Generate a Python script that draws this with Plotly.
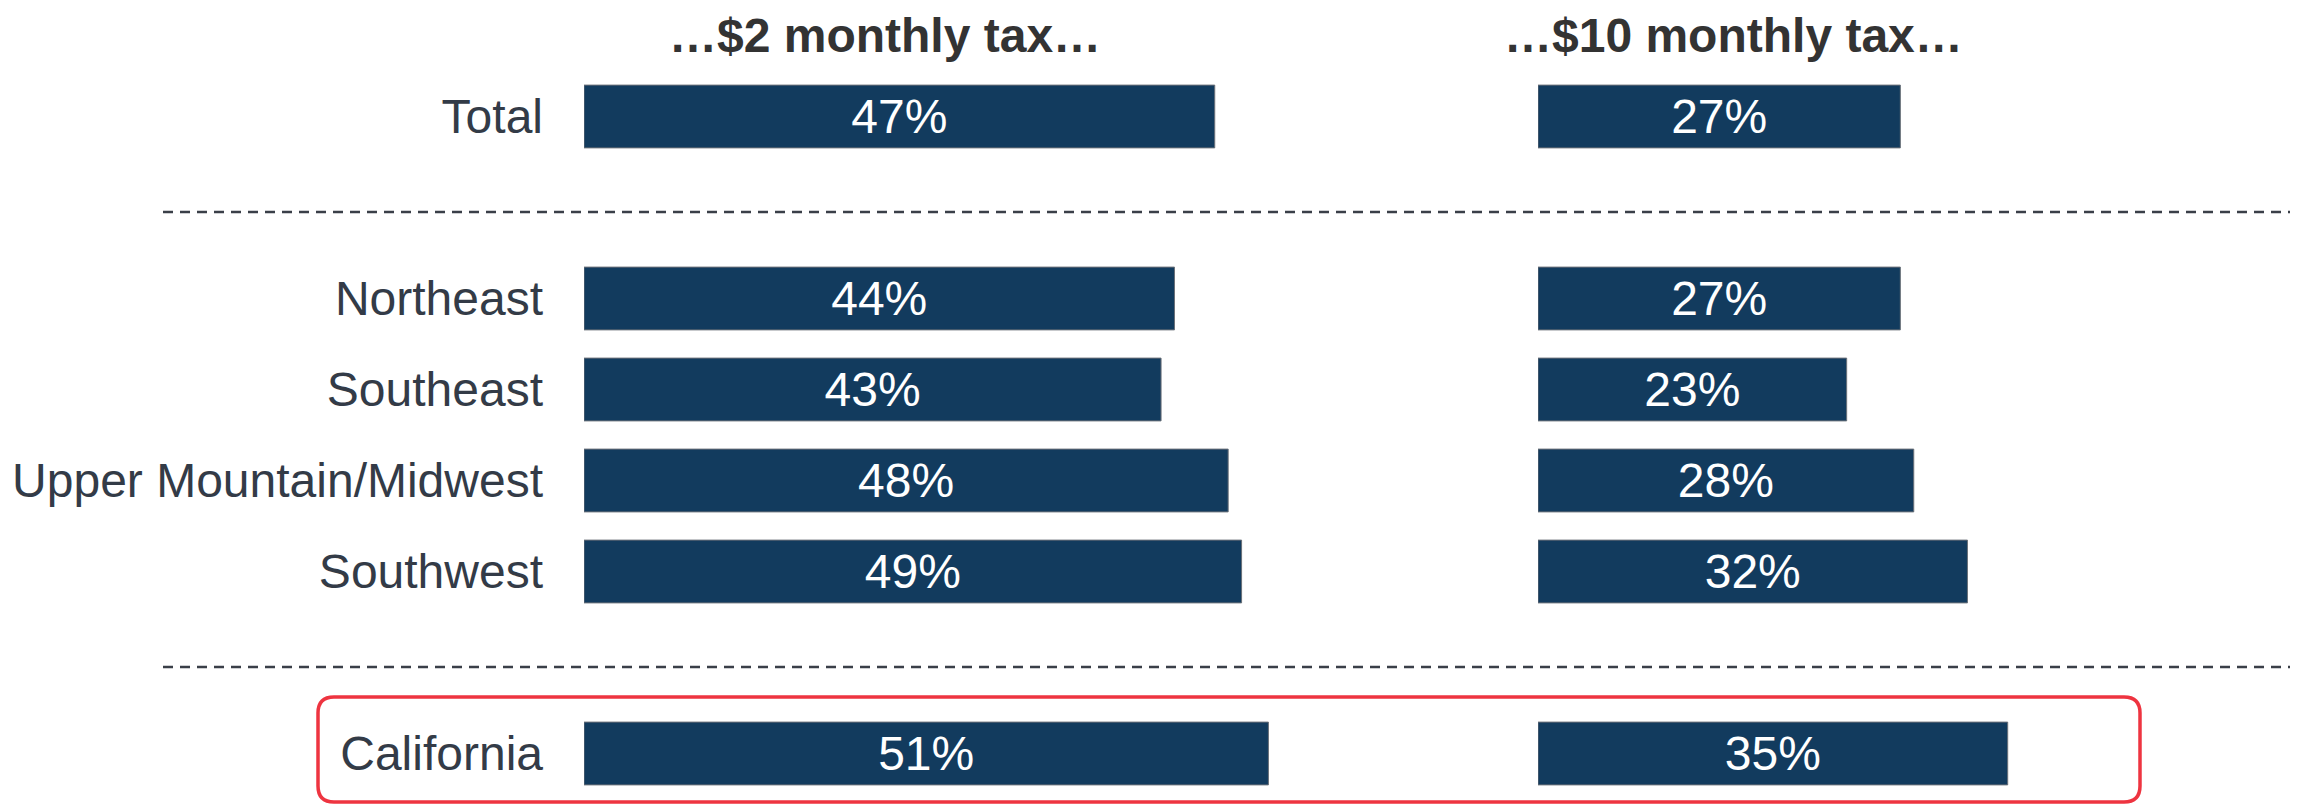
import plotly.graph_objects as go

# ---- data ----
categories = ["Total", " ", "Northeast", "Southeast", "Upper Mountain/Midwest", "Southwest", "  ", "California"]
tax2_values = [47, None, 44, 43, 48, 49, None, 51]
tax10_values = [27, None, 27, 23, 28, 32, None, 35]
column_titles = ["…$2 monthly tax…", "…$10 monthly tax…"]
separator_rows = [" ", "  "]

BAR = "#123b5e"
FONT = "Liberation Sans, Arial, sans-serif"
OFF = 8                      # default page body margin
W, H = 2300 - OFF, 805 - OFF
PX_PER_PCT = 13.42
XMAX = 53

def px(x):   # screen x -> paper
    return (x - OFF) / W

def py(y):   # screen y -> paper
    return 1 - (y - OFF) / H

def labels(vals):
    return [f"{v}%" if v is not None else "" for v in vals]

fig = go.Figure()
for vals, xa in [(tax2_values, "x"), (tax10_values, "x2")]:
    fig.add_trace(go.Bar(
        y=categories, x=vals, orientation="h", xaxis=xa, yaxis="y",
        marker=dict(color=BAR, line=dict(color="#6a7078", width=1)),
        text=labels(vals), textposition="inside", insidetextanchor="middle",
        textfont=dict(family=FONT, size=48, color="white"),
        constraintext="none", cliponaxis=False, hoverinfo="skip",
    ))

n = len(categories)
span = XMAX * PX_PER_PCT
# y axis: row 0 centred at screen y 116.5, row spacing 91 px
top_val = -(116.5 - OFF) / 91
bot_val = top_val + H / 91
fig.update_layout(
    width=W, height=H, margin=dict(l=0, r=0, t=0, b=0),
    paper_bgcolor="white", plot_bgcolor="white",
    showlegend=False, barmode="overlay", bargap=0.31,
    xaxis=dict(domain=[px(584), px(584 + span)], range=[0, XMAX], visible=False),
    xaxis2=dict(domain=[px(1538), px(1538 + span)], range=[0, XMAX], visible=False, anchor="y"),
    yaxis=dict(
        type="category", categoryorder="array", categoryarray=categories,
        range=[bot_val, top_val], showgrid=False, zeroline=False, showline=False,
        ticks="", ticklabelstandoff=40,
        tickfont=dict(family=FONT, size=48, color="#333b47"),
    ),
)

# column titles
for t, xc in zip(column_titles, [885, 1733]):
    fig.add_annotation(text=f"<b>{t}</b>", x=px(xc), y=1, xref="paper", yref="paper",
                       xanchor="center", yanchor="top", showarrow=False, borderpad=0,
                       font=dict(family=FONT, size=48, color="#333333"))

# dashed separators
for s in separator_rows:
    yi = categories.index(s) + 0.05
    fig.add_shape(type="line", xref="paper", yref="y", x0=px(163), x1=px(2290), y0=yi, y1=yi,
                  line=dict(color="#3a3f48", width=2.5, dash="10px,7px"))

# rounded highlight box around California
x0, x1 = px(318), px(2140)
y0, y1 = py(802), py(697)
rx, ry = 16 / W, 16 / H
path = (f"M {x0 + rx},{y1} L {x1 - rx},{y1} Q {x1},{y1} {x1},{y1 - ry} "
        f"L {x1},{y0 + ry} Q {x1},{y0} {x1 - rx},{y0} L {x0 + rx},{y0} "
        f"Q {x0},{y0} {x0},{y0 + ry} L {x0},{y1 - ry} Q {x0},{y1} {x0 + rx},{y1} Z")
fig.add_shape(type="path", path=path, xref="paper", yref="paper",
              line=dict(color="#ee3440", width=3.5))

fig.write_html("out.html")
